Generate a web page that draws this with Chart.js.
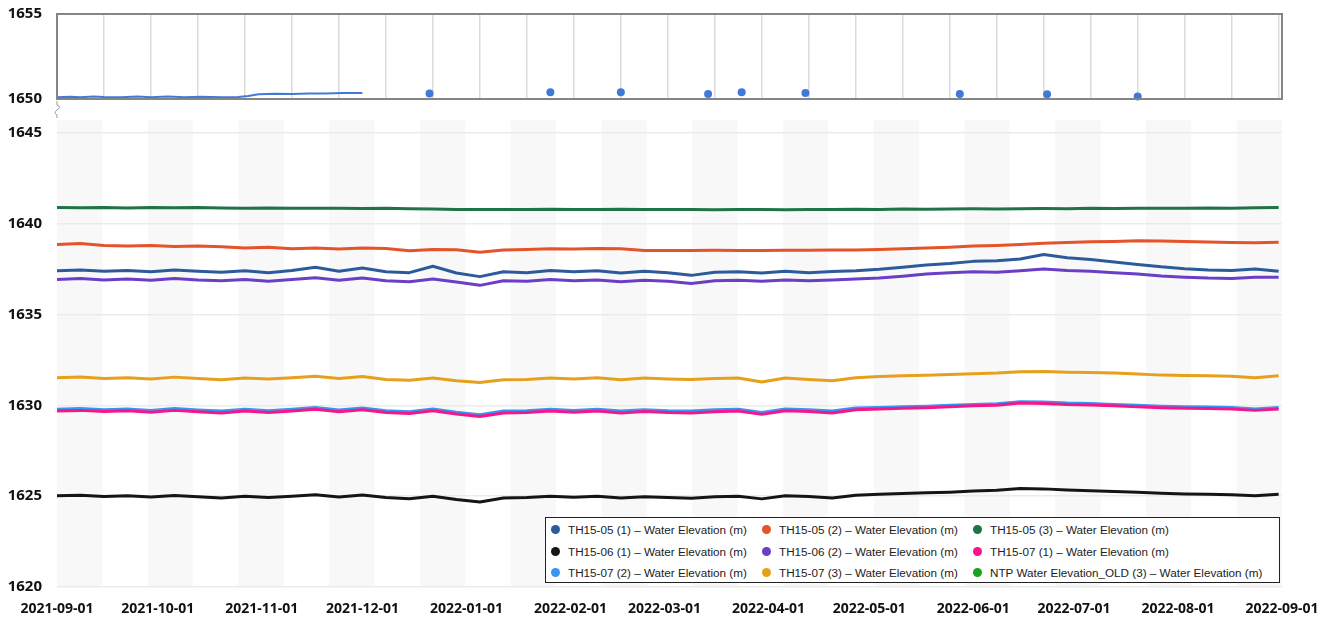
<!DOCTYPE html>
<html>
<head>
<meta charset="utf-8">
<script src="https://cdn.jsdelivr.net/npm/chart.js@4.4.0/dist/chart.umd.min.js"></script>
<style>
body{margin:0;background:#fff;width:1335px;height:617px;overflow:hidden;position:relative;font-family:"Open Sans",sans-serif}
#topChart{position:absolute;left:0;top:-10px}
#mainChart{position:absolute;left:0;top:96px}
#legend{position:absolute;left:545px;top:517px;width:735px;height:66px;border:1.5px solid #222;background:#fff;display:grid;grid-template-columns:211px 211px auto;grid-auto-rows:21.5px;padding:1px 0 0 5px;box-sizing:border-box;font-family:"Liberation Sans",Arial,sans-serif;font-size:11.7px;color:#222}
.li{display:flex;align-items:center;white-space:nowrap}
.dot{width:9px;height:9px;border-radius:50%;margin-right:8px;flex:none}
</style>
</head>
<body>
<canvas id="topChart" width="1335" height="133"></canvas>
<canvas id="mainChart" width="1335" height="521"></canvas>
<div id="legend"></div>
<script>
// weekly readings
var dates = ['2021-09-01','2021-09-08','2021-09-15','2021-09-22','2021-09-29','2021-10-06','2021-10-13','2021-10-20','2021-10-27',
  '2021-11-03','2021-11-10','2021-11-17','2021-11-24','2021-12-01','2021-12-08','2021-12-15','2021-12-22','2021-12-29',
  '2022-01-05','2022-01-12','2022-01-19','2022-01-26','2022-02-02','2022-02-09','2022-02-16','2022-02-23',
  '2022-03-02','2022-03-09','2022-03-16','2022-03-23','2022-03-30','2022-04-06','2022-04-13','2022-04-20','2022-04-27',
  '2022-05-04','2022-05-11','2022-05-18','2022-05-25','2022-06-01','2022-06-08','2022-06-15','2022-06-22','2022-06-29',
  '2022-07-06','2022-07-13','2022-07-20','2022-07-27','2022-08-03','2022-08-10','2022-08-17','2022-08-24','2022-08-31'];

var th1505_1 = [1637.40,1637.45,1637.38,1637.42,1637.35,1637.45,1637.38,1637.32,1637.40,1637.30,1637.42,1637.60,1637.38,
  1637.55,1637.35,1637.30,1637.65,1637.28,1637.08,1637.35,1637.30,1637.42,1637.35,1637.40,1637.28,1637.38,
  1637.30,1637.15,1637.32,1637.35,1637.28,1637.38,1637.30,1637.36,1637.40,1637.48,1637.60,1637.72,1637.80,
  1637.92,1637.95,1638.05,1638.30,1638.12,1638.02,1637.88,1637.75,1637.62,1637.52,1637.45,1637.42,1637.50,1637.38];
var th1505_2 = [1638.85,1638.90,1638.80,1638.76,1638.80,1638.74,1638.77,1638.72,1638.66,1638.70,1638.62,1638.66,1638.60,
  1638.66,1638.63,1638.50,1638.58,1638.56,1638.42,1638.55,1638.58,1638.62,1638.60,1638.63,1638.62,1638.52,
  1638.52,1638.52,1638.53,1638.52,1638.52,1638.53,1638.53,1638.54,1638.55,1638.58,1638.62,1638.66,1638.70,
  1638.76,1638.80,1638.85,1638.92,1638.96,1639.00,1639.02,1639.05,1639.04,1639.02,1638.98,1638.96,1638.95,1638.97];
var th1505_3 = [1640.88,1640.87,1640.88,1640.86,1640.88,1640.87,1640.88,1640.86,1640.85,1640.86,1640.84,1640.85,1640.84,
  1640.83,1640.84,1640.82,1640.80,1640.78,1640.77,1640.78,1640.77,1640.79,1640.78,1640.77,1640.79,1640.78,
  1640.77,1640.78,1640.76,1640.78,1640.77,1640.76,1640.78,1640.77,1640.79,1640.78,1640.80,1640.79,1640.80,
  1640.81,1640.80,1640.82,1640.83,1640.82,1640.84,1640.83,1640.84,1640.85,1640.84,1640.86,1640.85,1640.87,1640.88];
var th1506_1 = [1625.02,1625.05,1624.98,1625.02,1624.95,1625.04,1624.97,1624.90,1625.00,1624.92,1625.00,1625.08,1624.95,
  1625.06,1624.92,1624.86,1625.00,1624.82,1624.68,1624.90,1624.92,1625.00,1624.94,1625.00,1624.90,1624.97,
  1624.92,1624.88,1624.96,1625.00,1624.85,1625.02,1624.98,1624.90,1625.05,1625.10,1625.14,1625.18,1625.22,
  1625.28,1625.32,1625.42,1625.40,1625.34,1625.30,1625.26,1625.22,1625.16,1625.12,1625.10,1625.08,1625.02,1625.10];
var th1506_2 = [1636.92,1636.98,1636.90,1636.95,1636.88,1636.98,1636.90,1636.85,1636.92,1636.82,1636.92,1637.02,1636.88,
  1637.00,1636.85,1636.80,1636.95,1636.78,1636.60,1636.85,1636.82,1636.92,1636.85,1636.90,1636.80,1636.88,
  1636.82,1636.70,1636.85,1636.88,1636.82,1636.90,1636.85,1636.90,1636.95,1637.00,1637.10,1637.22,1637.30,
  1637.35,1637.32,1637.40,1637.50,1637.42,1637.38,1637.30,1637.22,1637.12,1637.05,1637.00,1636.98,1637.05,1637.05];
var th1507_1 = [1629.68,1629.72,1629.66,1629.70,1629.62,1629.72,1629.64,1629.58,1629.68,1629.60,1629.68,1629.78,1629.64,
  1629.76,1629.60,1629.55,1629.70,1629.52,1629.38,1629.58,1629.60,1629.68,1629.62,1629.68,1629.58,1629.66,
  1629.60,1629.58,1629.65,1629.68,1629.50,1629.70,1629.66,1629.58,1629.76,1629.80,1629.84,1629.87,1629.92,
  1629.97,1630.00,1630.12,1630.10,1630.04,1630.02,1629.97,1629.92,1629.87,1629.84,1629.82,1629.80,1629.72,1629.80];
var th1507_2 = [1629.78,1629.82,1629.75,1629.80,1629.72,1629.82,1629.74,1629.68,1629.78,1629.70,1629.78,1629.88,1629.74,
  1629.85,1629.70,1629.65,1629.80,1629.62,1629.48,1629.68,1629.70,1629.78,1629.72,1629.78,1629.68,1629.75,
  1629.70,1629.68,1629.75,1629.78,1629.60,1629.80,1629.75,1629.68,1629.85,1629.88,1629.92,1629.95,1630.00,
  1630.05,1630.08,1630.20,1630.18,1630.12,1630.10,1630.05,1630.00,1629.95,1629.92,1629.90,1629.88,1629.80,1629.88];
var th1507_3 = [1631.52,1631.55,1631.48,1631.52,1631.45,1631.55,1631.47,1631.40,1631.50,1631.45,1631.52,1631.60,1631.48,
  1631.58,1631.42,1631.38,1631.50,1631.35,1631.25,1631.40,1631.42,1631.50,1631.45,1631.52,1631.40,1631.50,
  1631.45,1631.42,1631.48,1631.50,1631.28,1631.50,1631.42,1631.35,1631.52,1631.58,1631.62,1631.65,1631.70,
  1631.74,1631.78,1631.85,1631.86,1631.82,1631.80,1631.78,1631.72,1631.66,1631.64,1631.62,1631.60,1631.52,1631.62];
var ntpOld = [];

// upper panel
var topLineDates = ['2021-09-01','2021-09-05','2021-09-08','2021-09-12','2021-09-15','2021-09-20','2021-09-25','2021-09-29',
  '2021-10-04','2021-10-09','2021-10-14','2021-10-20','2021-10-25','2021-10-28','2021-10-31','2021-11-05','2021-11-10',
  '2021-11-15','2021-11-20','2021-11-25','2021-12-01'];
var topLineValues = [1650.10,1650.13,1650.11,1650.15,1650.12,1650.10,1650.14,1650.11,1650.15,1650.10,1650.13,1650.11,
  1650.12,1650.18,1650.28,1650.31,1650.30,1650.33,1650.32,1650.35,1650.36];
var topDotDates = ['2021-12-21','2022-01-26','2022-02-16','2022-03-14','2022-03-24','2022-04-12','2022-05-28','2022-06-23','2022-07-20'];
var topDotValues = [1650.33,1650.39,1650.39,1650.29,1650.39,1650.35,1650.29,1650.28,1650.14];

var monthTicks = ['2021-09-01','2021-10-01','2021-11-01','2021-12-01','2022-01-01','2022-02-01','2022-03-01',
  '2022-04-01','2022-05-01','2022-06-01','2022-07-01','2022-08-01','2022-09-01'];
var topYTicks = [1650, 1655];
var mainYTicks = [1620, 1625, 1630, 1635, 1640, 1645];

var start = Date.UTC(2021, 8, 1);
function dayOf(s) {
  var p = s.split('-');
  return (Date.UTC(+p[0], +p[1] - 1, +p[2]) - start) / 86400000;
}
function pts(ds, vs) {
  return ds.map(function (d, i) { return { x: dayOf(d), y: vs[i] }; });
}
function fmt(v) {
  return new Date(start + v * 86400000).toISOString().slice(0, 10);
}

var yFont = { family: 'Open Sans', size: 15, weight: 'bold' };
function plain(v) { return String(v); }

var boxPlugin = {
  id: 'box',
  afterDraw: function (c) {
    var a = c.chartArea, ctx = c.ctx;
    ctx.save();
    ctx.strokeStyle = '#858585';
    ctx.lineWidth = 2;
    ctx.strokeRect(a.left, a.top, a.right - a.left, a.bottom - a.top);
    // axis break mark
    ctx.strokeStyle = '#999';
    ctx.lineWidth = 1;
    ctx.beginPath();
    ctx.moveTo(a.left, a.bottom + 2);
    ctx.lineTo(a.left, a.bottom + 6);
    ctx.quadraticCurveTo(a.left + 5, a.bottom + 8, a.left, a.bottom + 11);
    ctx.quadraticCurveTo(a.left - 4, a.bottom + 14, a.left, a.bottom + 16);
    ctx.lineTo(a.left, a.bottom + 19);
    ctx.stroke();
    ctx.restore();
  }
};

new Chart(document.getElementById('topChart'), {
  type: 'line',
  data: {
    datasets: [
      { label: 'upper', data: pts(topLineDates, topLineValues), borderColor: '#3f7bd6', borderWidth: 2, pointRadius: 0, clip: false },
      { label: 'upper points', data: pts(topDotDates, topDotValues), showLine: false, pointRadius: 4,
        pointBackgroundColor: '#3f7bd6', pointBorderWidth: 0, clip: false }
    ]
  },
  options: {
    responsive: false,
    animation: false,
    layout: { padding: { top: 6, right: 53, bottom: 18, left: 0 } },
    plugins: { legend: { display: false }, tooltip: { enabled: false } },
    scales: {
      x: {
        type: 'linear', min: 0, max: 365,
        afterBuildTicks: function (s) {
          var t = [];
          for (var d = 0; d <= 365; d += 14) t.push({ value: d });
          s.ticks = t;
        },
        afterFit: function (s) { s.height = 0; },
        ticks: { display: false },
        grid: { color: '#dcdcdc', lineWidth: 1.5, drawTicks: false },
        border: { display: false }
      },
      y: {
        min: 1650, max: 1655,
        afterBuildTicks: function (s) { s.ticks = topYTicks.map(function (v) { return { value: v }; }); },
        afterFit: function (s) { s.width = 57; },
        ticks: { padding: 15, color: '#111', font: yFont, callback: plain },
        grid: { display: false, drawTicks: false },
        border: { display: false }
      }
    }
  },
  plugins: [boxPlugin]
});

var bandPlugin = {
  id: 'bands',
  beforeDraw: function (c) {
    var a = c.chartArea, x = c.scales.x, ctx = c.ctx, w = 365 / 27;
    ctx.save();
    ctx.fillStyle = '#f8f8f8';
    for (var k = 0; k < 27; k += 2) {
      var x0 = x.getPixelForValue(k * w), x1 = x.getPixelForValue((k + 1) * w);
      ctx.fillRect(x0, a.top, x1 - x0, a.bottom - a.top);
    }
    ctx.restore();
  }
};

var series = [
  ['TH15-05 (1) – Water Elevation (m)', th1505_1, '#2c5b9c'],
  ['TH15-05 (2) – Water Elevation (m)', th1505_2, '#e4532a'],
  ['TH15-05 (3) – Water Elevation (m)', th1505_3, '#1e7446'],
  ['TH15-06 (1) – Water Elevation (m)', th1506_1, '#151515'],
  ['TH15-06 (2) – Water Elevation (m)', th1506_2, '#6a3ec6'],
  ['TH15-07 (1) – Water Elevation (m)', th1507_1, '#f5168c'],
  ['TH15-07 (2) – Water Elevation (m)', th1507_2, '#3796f2'],
  ['TH15-07 (3) – Water Elevation (m)', th1507_3, '#e6a01c'],
  ['NTP Water Elevation_OLD (3) – Water Elevation (m)', ntpOld, '#17a31c']
];

var mainChart = new Chart(document.getElementById('mainChart'), {
  type: 'line',
  data: {
    datasets: series.map(function (s) {
      return { label: s[0], data: pts(dates.slice(0, s[1].length), s[1]), borderColor: s[2], backgroundColor: s[2],
        borderWidth: 3, pointRadius: 0, tension: 0, borderJoinStyle: 'round' };
    })
  },
  options: {
    responsive: false,
    animation: false,
    layout: { padding: { top: 16, right: 53, bottom: 0, left: 0 } },
    plugins: { legend: { display: false }, tooltip: { enabled: false } },
    scales: {
      x: {
        type: 'linear', min: 0, max: 365,
        afterBuildTicks: function (s) { s.ticks = monthTicks.map(function (m) { return { value: dayOf(m) }; }); },
        afterFit: function (s) { s.height = 30; },
        ticks: { autoSkip: false, maxRotation: 0, padding: 6, color: '#111',
          font: { family: 'Open Sans', size: 14, weight: 'bold' },
          callback: function (v) { return fmt(v); } },
        grid: { display: false },
        border: { display: false }
      },
      y: {
        min: 1620, max: 1645.7,
        afterBuildTicks: function (s) { s.ticks = mainYTicks.map(function (v) { return { value: v }; }); },
        afterFit: function (s) { s.width = 57; },
        ticks: { padding: 15, color: '#111', font: yFont, callback: plain },
        grid: { color: '#ebebeb', lineWidth: 1.5, drawTicks: false },
        border: { display: false }
      }
    }
  },
  plugins: [bandPlugin]
});

var legendEl = document.getElementById('legend');
mainChart.data.datasets.forEach(function (ds) {
  var item = document.createElement('div');
  item.className = 'li';
  var dot = document.createElement('span');
  dot.className = 'dot';
  dot.style.background = ds.borderColor;
  item.appendChild(dot);
  item.appendChild(document.createTextNode(ds.label));
  legendEl.appendChild(item);
});
</script>
</body>
</html>
